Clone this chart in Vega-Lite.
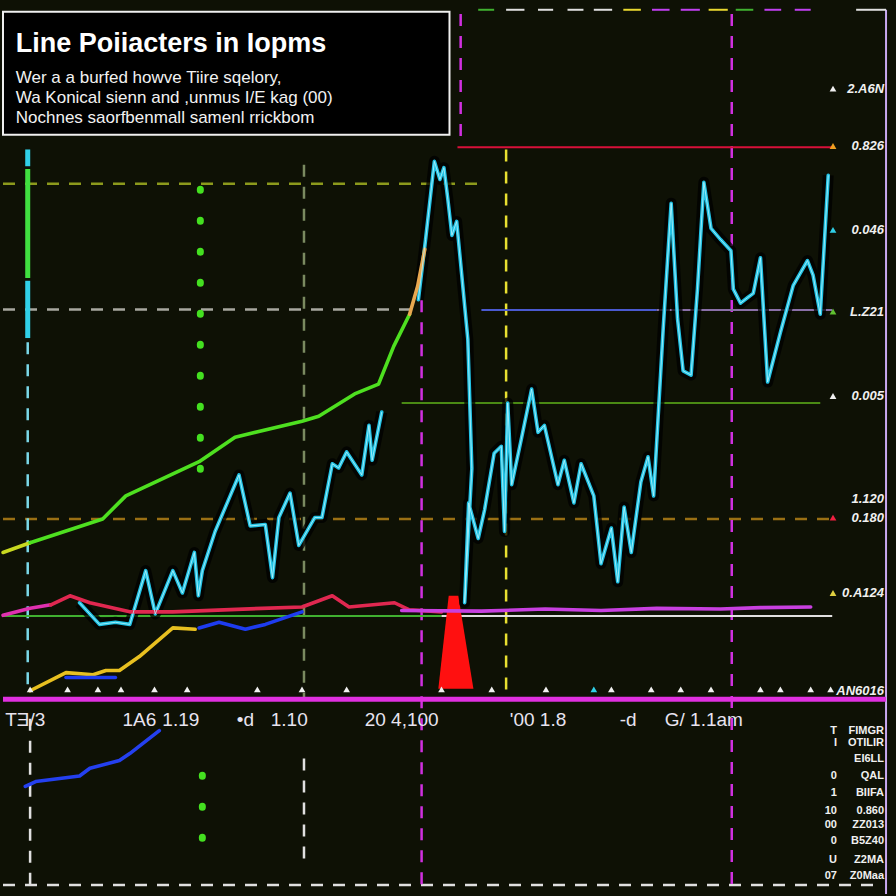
{
  "$schema": "https://vega.github.io/schema/vega-lite/v6.json",
  "width": 896,
  "height": 896,
  "autosize": {"type": "fit", "contains": "padding"},
  "padding": 0,
  "background": "#0e1105",
  "config": {"view": {"stroke": null}},
  "resolve": {"scale": {"color": "independent"}},
  "datasets": {
    "series": [
      {"s": "c1", "i": 0, "t": 9.6, "v": 13.7},
      {"s": "c1", "i": 1, "t": 12.1, "v": 10.6},
      {"s": "c1", "i": 2, "t": 14.1, "v": 10.9},
      {"s": "c1", "i": 3, "t": 15.9, "v": 10.6},
      {"s": "c1", "i": 4, "t": 17.9, "v": 18.3},
      {"s": "c1", "i": 5, "t": 19.1, "v": 12.1},
      {"s": "c1", "i": 6, "t": 21.3, "v": 18.3},
      {"s": "c1", "i": 7, "t": 22.5, "v": 15.1},
      {"s": "c1", "i": 8, "t": 24.0, "v": 20.9},
      {"s": "c1", "i": 9, "t": 24.5, "v": 14.7},
      {"s": "c1", "i": 10, "t": 25.0, "v": 18.3},
      {"s": "c1", "i": 11, "t": 26.6, "v": 23.9},
      {"s": "c1", "i": 12, "t": 29.6, "v": 32.0},
      {"s": "c1", "i": 13, "t": 31.0, "v": 24.7},
      {"s": "c1", "i": 14, "t": 32.9, "v": 24.9},
      {"s": "c1", "i": 15, "t": 33.8, "v": 17.3},
      {"s": "c1", "i": 16, "t": 34.6, "v": 25.9},
      {"s": "c1", "i": 17, "t": 36.0, "v": 29.4},
      {"s": "c1", "i": 18, "t": 37.1, "v": 21.9},
      {"s": "c1", "i": 19, "t": 39.1, "v": 25.9},
      {"s": "c1", "i": 20, "t": 40.0, "v": 25.9},
      {"s": "c1", "i": 21, "t": 41.3, "v": 33.6},
      {"s": "c1", "i": 22, "t": 42.1, "v": 33.0},
      {"s": "c1", "i": 23, "t": 43.1, "v": 35.3},
      {"s": "c1", "i": 24, "t": 45.0, "v": 32.0},
      {"s": "c1", "i": 25, "t": 45.9, "v": 39.1},
      {"s": "c1", "i": 26, "t": 46.3, "v": 34.1},
      {"s": "c1", "i": 27, "t": 47.5, "v": 41.0},
      {"s": "c2", "i": 0, "t": 52.1, "v": 57.1},
      {"s": "c2", "i": 1, "t": 53.0, "v": 65.7},
      {"s": "c2", "i": 2, "t": 54.1, "v": 76.9},
      {"s": "c2", "i": 3, "t": 54.8, "v": 74.3},
      {"s": "c2", "i": 4, "t": 55.3, "v": 76.0},
      {"s": "c2", "i": 5, "t": 55.8, "v": 71.4},
      {"s": "c2", "i": 6, "t": 56.3, "v": 66.3},
      {"s": "c2", "i": 7, "t": 56.9, "v": 68.3},
      {"s": "c2", "i": 8, "t": 58.3, "v": 51.4},
      {"s": "c2", "i": 9, "t": 58.8, "v": 32.9},
      {"s": "c2", "i": 10, "t": 57.9, "v": 13.7},
      {"s": "c2", "i": 11, "t": 58.4, "v": 28.0},
      {"s": "c2", "i": 12, "t": 59.6, "v": 22.9},
      {"s": "c2", "i": 13, "t": 60.4, "v": 27.0},
      {"s": "c2", "i": 14, "t": 61.6, "v": 35.1},
      {"s": "c2", "i": 15, "t": 62.5, "v": 36.1},
      {"s": "c2", "i": 16, "t": 62.9, "v": 23.9},
      {"s": "c2", "i": 17, "t": 63.3, "v": 42.3},
      {"s": "c2", "i": 18, "t": 63.8, "v": 30.6},
      {"s": "c2", "i": 19, "t": 65.0, "v": 37.1},
      {"s": "c2", "i": 20, "t": 66.3, "v": 44.3},
      {"s": "c2", "i": 21, "t": 67.1, "v": 38.1},
      {"s": "c2", "i": 22, "t": 67.9, "v": 39.1},
      {"s": "c2", "i": 23, "t": 69.6, "v": 30.6},
      {"s": "c2", "i": 24, "t": 70.4, "v": 34.1},
      {"s": "c2", "i": 25, "t": 71.6, "v": 28.0},
      {"s": "c2", "i": 26, "t": 72.5, "v": 33.6},
      {"s": "c2", "i": 27, "t": 74.1, "v": 29.0},
      {"s": "c2", "i": 28, "t": 75.0, "v": 19.3},
      {"s": "c2", "i": 29, "t": 76.3, "v": 24.4},
      {"s": "c2", "i": 30, "t": 77.1, "v": 16.7},
      {"s": "c2", "i": 31, "t": 77.9, "v": 27.4},
      {"s": "c2", "i": 32, "t": 78.8, "v": 20.9},
      {"s": "c2", "i": 33, "t": 80.0, "v": 31.0},
      {"s": "c2", "i": 34, "t": 80.9, "v": 34.6},
      {"s": "c2", "i": 35, "t": 81.6, "v": 29.0},
      {"s": "c2", "i": 36, "t": 82.8, "v": 52.9},
      {"s": "c2", "i": 37, "t": 83.8, "v": 70.9},
      {"s": "c2", "i": 38, "t": 84.6, "v": 54.4},
      {"s": "c2", "i": 39, "t": 85.3, "v": 46.9},
      {"s": "c2", "i": 40, "t": 86.3, "v": 46.3},
      {"s": "c2", "i": 41, "t": 87.1, "v": 58.6},
      {"s": "c2", "i": 42, "t": 87.9, "v": 73.9},
      {"s": "c2", "i": 43, "t": 88.8, "v": 67.3},
      {"s": "c2", "i": 44, "t": 90.0, "v": 65.7},
      {"s": "c2", "i": 45, "t": 91.3, "v": 64.1},
      {"s": "c2", "i": 46, "t": 91.6, "v": 58.6},
      {"s": "c2", "i": 47, "t": 92.5, "v": 56.6},
      {"s": "c2", "i": 48, "t": 93.4, "v": 57.4},
      {"s": "c2", "i": 49, "t": 94.1, "v": 58.0},
      {"s": "c2", "i": 50, "t": 95.0, "v": 63.1},
      {"s": "c2", "i": 51, "t": 95.9, "v": 45.3},
      {"s": "c2", "i": 52, "t": 97.5, "v": 52.4},
      {"s": "c2", "i": 53, "t": 99.1, "v": 59.1},
      {"s": "c2", "i": 54, "t": 100.9, "v": 62.7},
      {"s": "c2", "i": 55, "t": 101.6, "v": 60.6},
      {"s": "c2", "i": 56, "t": 102.5, "v": 55.0},
      {"s": "c2", "i": 57, "t": 103.5, "v": 74.9},
      {"s": "gy", "i": 0, "t": 0, "v": 20.9},
      {"s": "gy", "i": 1, "t": 3.4, "v": 22.3},
      {"s": "g", "i": 0, "t": 3.4, "v": 22.3},
      {"s": "g", "i": 1, "t": 12.5, "v": 25.7},
      {"s": "g", "i": 2, "t": 15.4, "v": 29.0},
      {"s": "g", "i": 3, "t": 24.6, "v": 33.9},
      {"s": "g", "i": 4, "t": 29.1, "v": 37.4},
      {"s": "g", "i": 5, "t": 37.5, "v": 39.7},
      {"s": "g", "i": 6, "t": 39.6, "v": 40.4},
      {"s": "g", "i": 7, "t": 44.1, "v": 43.6},
      {"s": "g", "i": 8, "t": 47.1, "v": 45.0},
      {"s": "g", "i": 9, "t": 49.0, "v": 50.4},
      {"s": "g", "i": 10, "t": 51.0, "v": 55.0},
      {"s": "go", "i": 0, "t": 51.0, "v": 55.0},
      {"s": "go", "i": 1, "t": 52.0, "v": 59.0},
      {"s": "go", "i": 2, "t": 52.9, "v": 64.3},
      {"s": "yl", "i": 0, "t": 3.4, "v": 1.1},
      {"s": "yl", "i": 1, "t": 7.9, "v": 3.7},
      {"s": "yl", "i": 2, "t": 11.3, "v": 3.4},
      {"s": "yl", "i": 3, "t": 12.9, "v": 4.0},
      {"s": "yl", "i": 4, "t": 14.6, "v": 4.0},
      {"s": "yl", "i": 5, "t": 17.1, "v": 6.0},
      {"s": "yl", "i": 6, "t": 21.3, "v": 10.1},
      {"s": "yl", "i": 7, "t": 24.1, "v": 9.9},
      {"s": "b1", "i": 0, "t": 7.9, "v": 3.0},
      {"s": "b1", "i": 1, "t": 14.1, "v": 3.0},
      {"s": "b2", "i": 0, "t": 24.6, "v": 10.1},
      {"s": "b2", "i": 1, "t": 27.1, "v": 10.9},
      {"s": "b2", "i": 2, "t": 30.4, "v": 9.9},
      {"s": "b2", "i": 3, "t": 32.9, "v": 10.6},
      {"s": "b2", "i": 4, "t": 37.5, "v": 12.4},
      {"s": "b3", "i": 0, "t": 2.8, "v": -12.6},
      {"s": "b3", "i": 1, "t": 4.1, "v": -11.9},
      {"s": "b3", "i": 2, "t": 9.6, "v": -11.1},
      {"s": "b3", "i": 3, "t": 10.9, "v": -10.0},
      {"s": "b3", "i": 4, "t": 14.6, "v": -8.9},
      {"s": "b3", "i": 5, "t": 15.9, "v": -7.9},
      {"s": "b3", "i": 6, "t": 19.6, "v": -4.6},
      {"s": "r0", "i": 0, "t": 0, "v": 11.9},
      {"s": "r0", "i": 1, "t": 3.4, "v": 12.9},
      {"s": "r0", "i": 2, "t": 6.0, "v": 13.4},
      {"s": "r", "i": 0, "t": 6.0, "v": 13.4},
      {"s": "r", "i": 1, "t": 8.4, "v": 14.7},
      {"s": "r", "i": 2, "t": 10.9, "v": 13.7},
      {"s": "r", "i": 3, "t": 15.9, "v": 12.4},
      {"s": "r", "i": 4, "t": 21.3, "v": 12.4},
      {"s": "r", "i": 5, "t": 32.5, "v": 12.9},
      {"s": "r", "i": 6, "t": 37.5, "v": 13.1},
      {"s": "r", "i": 7, "t": 41.3, "v": 14.7},
      {"s": "r", "i": 8, "t": 43.4, "v": 13.1},
      {"s": "r", "i": 9, "t": 49.1, "v": 13.7},
      {"s": "r", "i": 10, "t": 50.9, "v": 12.7},
      {"s": "r", "i": 11, "t": 55.0, "v": 12.4},
      {"s": "m", "i": 0, "t": 50.0, "v": 12.6},
      {"s": "m", "i": 1, "t": 60.0, "v": 12.5},
      {"s": "m", "i": 2, "t": 68.0, "v": 12.8},
      {"s": "m", "i": 3, "t": 75.0, "v": 12.6},
      {"s": "m", "i": 4, "t": 82.0, "v": 12.9},
      {"s": "m", "i": 5, "t": 90.0, "v": 12.8},
      {"s": "m", "i": 6, "t": 95.0, "v": 13.0},
      {"s": "m", "i": 7, "t": 101.3, "v": 13.1}
    ],
    "dashed": [
      {"k": "yg", "t": 0, "t2": 60, "v": 73.7, "v2": 73.7},
      {"k": "gr", "t": 0, "t2": 52.5, "v": 55.7, "v2": 55.7},
      {"k": "or", "t": 0, "t2": 104, "v": 25.7, "v2": 25.7},
      {"k": "wh", "t": 0, "t2": 110, "v": -26.7, "v2": -26.7},
      {"k": "mg", "t": 52.5, "t2": 52.5, "v": 57, "v2": -28},
      {"k": "mg", "t": 57.4, "t2": 57.4, "v": 98, "v2": 80},
      {"k": "mg", "t": 91.4, "t2": 91.4, "v": 98, "v2": -28},
      {"k": "ye", "t": 63.1, "t2": 63.1, "v": 78.6, "v2": 0},
      {"k": "gg", "t": 37.75, "t2": 37.75, "v": 76.4, "v2": 0},
      {"k": "wh", "t": 3.4, "t2": 3.4, "v": -2.9, "v2": -27.1},
      {"k": "wh", "t": 37.75, "t2": 37.75, "v": -8.6, "v2": -22.9},
      {"k": "cw", "t": 3.1, "t2": 3.1, "v": 51.0, "v2": 1}
    ],
    "solid": [
      {"k": "rd", "t": 57, "t2": 104, "v": 78.9, "v2": 78.9},
      {"k": "gn", "t": 50, "t2": 102.5, "v": 42.3, "v2": 42.3},
      {"k": "bl", "t": 60, "t2": 82, "v": 55.6, "v2": 55.6},
      {"k": "pp", "t": 82, "t2": 104, "v": 55.6, "v2": 55.6},
      {"k": "tg", "t": 0, "t2": 55, "v": 11.8, "v2": 11.8},
      {"k": "tw", "t": 55, "t2": 104, "v": 11.8, "v2": 11.8},
      {"k": "tg", "t": 59.6, "t2": 61.6, "v": 98.6, "v2": 98.6},
      {"k": "tw", "t": 63.1, "t2": 65.4, "v": 98.6, "v2": 98.6},
      {"k": "tw", "t": 67.1, "t2": 69.0, "v": 98.6, "v2": 98.6},
      {"k": "tw", "t": 70.8, "t2": 72.8, "v": 98.6, "v2": 98.6},
      {"k": "tw", "t": 74.1, "t2": 76.4, "v": 98.6, "v2": 98.6},
      {"k": "ty", "t": 77.8, "t2": 80.0, "v": 98.6, "v2": 98.6},
      {"k": "tm", "t": 81.4, "t2": 83.6, "v": 98.6, "v2": 98.6},
      {"k": "tm", "t": 85.0, "t2": 87.4, "v": 98.6, "v2": 98.6},
      {"k": "ty", "t": 88.5, "t2": 90.9, "v": 98.6, "v2": 98.6},
      {"k": "tg", "t": 91.9, "t2": 94.1, "v": 98.6, "v2": 98.6},
      {"k": "tm", "t": 95.5, "t2": 97.6, "v": 98.6, "v2": 98.6},
      {"k": "tm", "t": 99.3, "t2": 101.3, "v": 98.6, "v2": 98.6},
      {"k": "pb", "t": 110.75, "t2": 110.75, "v": 98.6, "v2": -28},
      {"k": "tw", "t": 107, "t2": 110.75, "v": 98.6, "v2": 98.6}
    ],
    "thick": [
      {"k": "mb", "t": 0, "t2": 110.75, "v": -0.1, "v2": -0.1},
      {"k": "cy", "t": 3.1, "t2": 3.1, "v": 78.6, "v2": 76.2},
      {"k": "lg", "t": 3.1, "t2": 3.1, "v": 75.8, "v2": 60.2},
      {"k": "cy", "t": 3.1, "t2": 3.1, "v": 59.8, "v2": 51.6}
    ],
    "dots": [
      {"t": 24.75, "t2": 24.75, "v": 72.9, "v2": 30},
      {"t": 25.0, "t2": 25.0, "v": -11, "v2": -23}
    ],
    "spike": [
      {"t": 54.6, "v": 1.4},
      {"t": 55.9, "v": 14.7},
      {"t": 57.1, "v": 14.7},
      {"t": 59.0, "v": 1.4}
    ],
    "ticks": [
      {"k": "w", "t": 3.4, "v": 1.3}, {"k": "w", "t": 8.1, "v": 1.3}, {"k": "w", "t": 11.9, "v": 1.3},
      {"k": "w", "t": 14.8, "v": 1.3}, {"k": "w", "t": 19.0, "v": 1.3}, {"k": "w", "t": 23.1, "v": 1.3},
      {"k": "w", "t": 31.9, "v": 1.3}, {"k": "w", "t": 37.5, "v": 1.3}, {"k": "w", "t": 43.1, "v": 1.3},
      {"k": "w", "t": 55.0, "v": 1.3}, {"k": "w", "t": 61.3, "v": 1.3}, {"k": "w", "t": 68.1, "v": 1.3},
      {"k": "c", "t": 74.1, "v": 1.3}, {"k": "w", "t": 76.3, "v": 1.3}, {"k": "w", "t": 81.3, "v": 1.3},
      {"k": "w", "t": 85.0, "v": 1.3}, {"k": "w", "t": 88.8, "v": 1.3}, {"k": "w", "t": 95.0, "v": 1.3},
      {"k": "w", "t": 97.5, "v": 1.3}, {"k": "w", "t": 101.3, "v": 1.3}, {"k": "w", "t": 103.8, "v": 1.3},
      {"k": "o", "t": 104.1, "v": 79.1}, {"k": "c", "t": 104.1, "v": 67.1}, {"k": "g", "t": 104.1, "v": 55.4},
      {"k": "w", "t": 104.1, "v": 43.3}, {"k": "r", "t": 104.1, "v": 25.9}, {"k": "y", "t": 104.1, "v": 15.1},
      {"k": "w", "t": 104.1, "v": 87.3}
    ],
    "box": [{"t": 0, "t2": 56, "v": 98.3, "v2": 80.7}],
    "title": [{"t": 1.6, "v": 92.6, "text": "Line Poiiacters in Iopms"}],
    "sub": [
      {"t": 1.6, "v": 88.1, "text": "Wer a a burfed howve Tiire sqelory,"},
      {"t": 1.6, "v": 85.3, "text": "Wa Konical sienn and ,unmus I/E kag (00)"},
      {"t": 1.6, "v": 82.4, "text": "Nochnes saorfbenmall samenl rrickbom"}
    ],
    "rlab": [
      {"t": 110.5, "v": 87.3, "text": "2.A6N"},
      {"t": 110.5, "v": 79.1, "text": "0.826"},
      {"t": 110.5, "v": 67.1, "text": "0.046"},
      {"t": 110.5, "v": 55.4, "text": "L.Z21"},
      {"t": 110.5, "v": 43.3, "text": "0.005"},
      {"t": 110.5, "v": 28.6, "text": "1.120"},
      {"t": 110.5, "v": 25.9, "text": "0.180"},
      {"t": 110.5, "v": 15.1, "text": "0.A124"},
      {"t": 110.5, "v": 1.0, "text": "AN6016"}
    ],
    "blab": [
      {"t": 2.8, "v": -3.1, "text": "TƎ/3"},
      {"t": 17.1, "v": -3.1, "text": "1A6"},
      {"t": 22.3, "v": -3.1, "text": "1.19"},
      {"t": 30.4, "v": -3.1, "text": "•d"},
      {"t": 35.9, "v": -3.1, "text": "1.10"},
      {"t": 50.0, "v": -3.1, "text": "20 4,100"},
      {"t": 67.1, "v": -3.1, "text": "'00 1.8"},
      {"t": 78.4, "v": -3.1, "text": "-d"},
      {"t": 87.9, "v": -3.1, "text": "G/ 1.1am"}
    ],
    "list": [
      {"t": 110.5, "v": -4.6, "text": "FIMGR"},
      {"t": 110.5, "v": -6.4, "text": "OTILIR"},
      {"t": 110.5, "v": -8.6, "text": "EI6LL"},
      {"t": 110.5, "v": -11.1, "text": "QAL"},
      {"t": 110.5, "v": -13.6, "text": "BIIFA"},
      {"t": 110.5, "v": -16.1, "text": "0.860"},
      {"t": 110.5, "v": -18.1, "text": "ZZ013"},
      {"t": 110.5, "v": -20.4, "text": "B5Z40"},
      {"t": 110.5, "v": -23.1, "text": "Z2MA"},
      {"t": 110.5, "v": -25.4, "text": "Z0Maa"},
      {"t": 104.6, "v": -4.6, "text": "T"},
      {"t": 104.6, "v": -6.4, "text": "I"},
      {"t": 104.6, "v": -11.1, "text": "0"},
      {"t": 104.6, "v": -13.6, "text": "1"},
      {"t": 104.6, "v": -16.1, "text": "10"},
      {"t": 104.6, "v": -18.1, "text": "00"},
      {"t": 104.6, "v": -20.4, "text": "0"},
      {"t": 104.6, "v": -23.1, "text": "U"},
      {"t": 104.6, "v": -25.4, "text": "07"}
    ]
  },
  "encoding": {
    "x": {"field": "t", "type": "quantitative", "scale": {"domain": [0, 112], "nice": false, "zero": false}, "axis": null},
    "y": {"field": "v", "type": "quantitative", "scale": {"domain": [-28, 100], "nice": false, "zero": false}, "axis": null}
  },
  "layer": [
    {
      "data": {"name": "dashed"},
      "mark": {"type": "rule", "strokeWidth": 2.5, "strokeDash": [12, 10]},
      "encoding": {
        "x2": {"field": "t2"},
        "y2": {"field": "v2"},
        "color": {"field": "k", "type": "nominal", "legend": null,
          "scale": {"domain": ["yg", "gr", "or", "wh", "mg", "ye", "gg", "cw"],
                    "range": ["#8c9a1c", "#a8a8a0", "#9a7014", "#e0e0e0", "#d030e0", "#e8e030", "#7a8a60", "#7ad8e8"]}}
      }
    },
    {
      "data": {"name": "solid"},
      "mark": {"type": "rule", "strokeWidth": 2},
      "encoding": {
        "x2": {"field": "t2"},
        "y2": {"field": "v2"},
        "color": {"field": "k", "type": "nominal", "legend": null,
          "scale": {"domain": ["rd", "gn", "bl", "pp", "tg", "tw", "ty", "tm", "pb"],
                    "range": ["#d8103a", "#4a8a14", "#4a5ad0", "#8a70a8", "#40b030", "#e0e0e0", "#e8d830", "#c040f0", "#c8a8f0"]}}
      }
    },
    {
      "data": {"name": "thick"},
      "mark": {"type": "rule", "strokeWidth": 5},
      "encoding": {
        "x2": {"field": "t2"},
        "y2": {"field": "v2"},
        "color": {"field": "k", "type": "nominal", "legend": null,
          "scale": {"domain": ["mb", "cy", "lg"], "range": ["#e030e0", "#30d0e8", "#40e040"]}}
      }
    },
    {
      "data": {"name": "dots"},
      "mark": {"type": "rule", "strokeWidth": 7, "strokeDash": [1, 30], "strokeCap": "round", "color": "#44e020"},
      "encoding": {"x2": {"field": "t2"}, "y2": {"field": "v2"}}
    },
    {
      "data": {"name": "spike"},
      "mark": {"type": "area", "color": "#ff1010", "opacity": 1},
      "encoding": {"y2": {"datum": 1.4}}
    },
    {
      "data": {"name": "series"},
      "transform": [{"filter": "datum.s === 'c1' || datum.s === 'c2'"}],
      "mark": {"type": "line", "strokeWidth": 11, "color": "#000000", "opacity": 0.75, "strokeJoin": "round"},
      "encoding": {"detail": {"field": "s"}, "order": {"field": "i"}}
    },
    {
      "data": {"name": "series"},
      "mark": {"type": "line", "strokeWidth": 3.6, "strokeJoin": "round", "strokeCap": "round"},
      "encoding": {
        "detail": {"field": "s"},
        "order": {"field": "i"},
        "color": {"field": "s", "type": "nominal", "legend": null,
          "scale": {"domain": ["c1", "c2", "gy", "g", "go", "yl", "b1", "b2", "b3", "r0", "r", "m"],
                    "range": ["#22c2e4", "#22c2e4", "#c8d820", "#4ee020", "#e8a850", "#e8c020", "#1e3cf0", "#1e3cf0", "#2440f0", "#e030b0", "#e02850", "#c840e0"]}}
      }
    },
    {
      "data": {"name": "series"},
      "transform": [{"filter": "datum.s === 'c1' || datum.s === 'c2'"}],
      "mark": {"type": "line", "strokeWidth": 1, "color": "#b8f6ff", "opacity": 0.8, "strokeJoin": "round"},
      "encoding": {"detail": {"field": "s"}, "order": {"field": "i"}}
    },
    {
      "data": {"name": "ticks"},
      "mark": {"type": "point", "shape": "triangle-up", "filled": true, "size": 45, "opacity": 1},
      "encoding": {
        "color": {"field": "k", "type": "nominal", "legend": null,
          "scale": {"domain": ["w", "c", "o", "g", "r", "y"], "range": ["#f0f0f0", "#30d0e8", "#f0a020", "#60c030", "#f02040", "#e0d040"]}}
      }
    },
    {
      "data": {"name": "box"},
      "mark": {"type": "rect", "fill": "#000000", "stroke": "#f0f0f0", "strokeWidth": 2},
      "encoding": {"x2": {"field": "t2"}, "y2": {"field": "v2"}}
    },
    {
      "data": {"name": "title"},
      "mark": {"type": "text", "align": "left", "baseline": "alphabetic", "font": "Liberation Sans", "fontWeight": "bold", "fontSize": 27, "color": "#ffffff"},
      "encoding": {"text": {"field": "text"}}
    },
    {
      "data": {"name": "sub"},
      "mark": {"type": "text", "align": "left", "baseline": "alphabetic", "font": "Liberation Sans", "fontSize": 17, "color": "#f2f2f2"},
      "encoding": {"text": {"field": "text"}}
    },
    {
      "data": {"name": "rlab"},
      "mark": {"type": "text", "align": "right", "baseline": "middle", "font": "Liberation Sans", "fontStyle": "italic", "fontWeight": "bold", "fontSize": 13, "color": "#f0f0f0"},
      "encoding": {"text": {"field": "text"}}
    },
    {
      "data": {"name": "blab"},
      "mark": {"type": "text", "align": "center", "baseline": "middle", "font": "Liberation Sans", "fontSize": 19, "color": "#e8e4f0"},
      "encoding": {"text": {"field": "text"}}
    },
    {
      "data": {"name": "list"},
      "mark": {"type": "text", "align": "right", "baseline": "middle", "font": "Liberation Sans", "fontWeight": "bold", "fontSize": 11, "color": "#f0f0f0"},
      "encoding": {"text": {"field": "text"}}
    }
  ]
}
